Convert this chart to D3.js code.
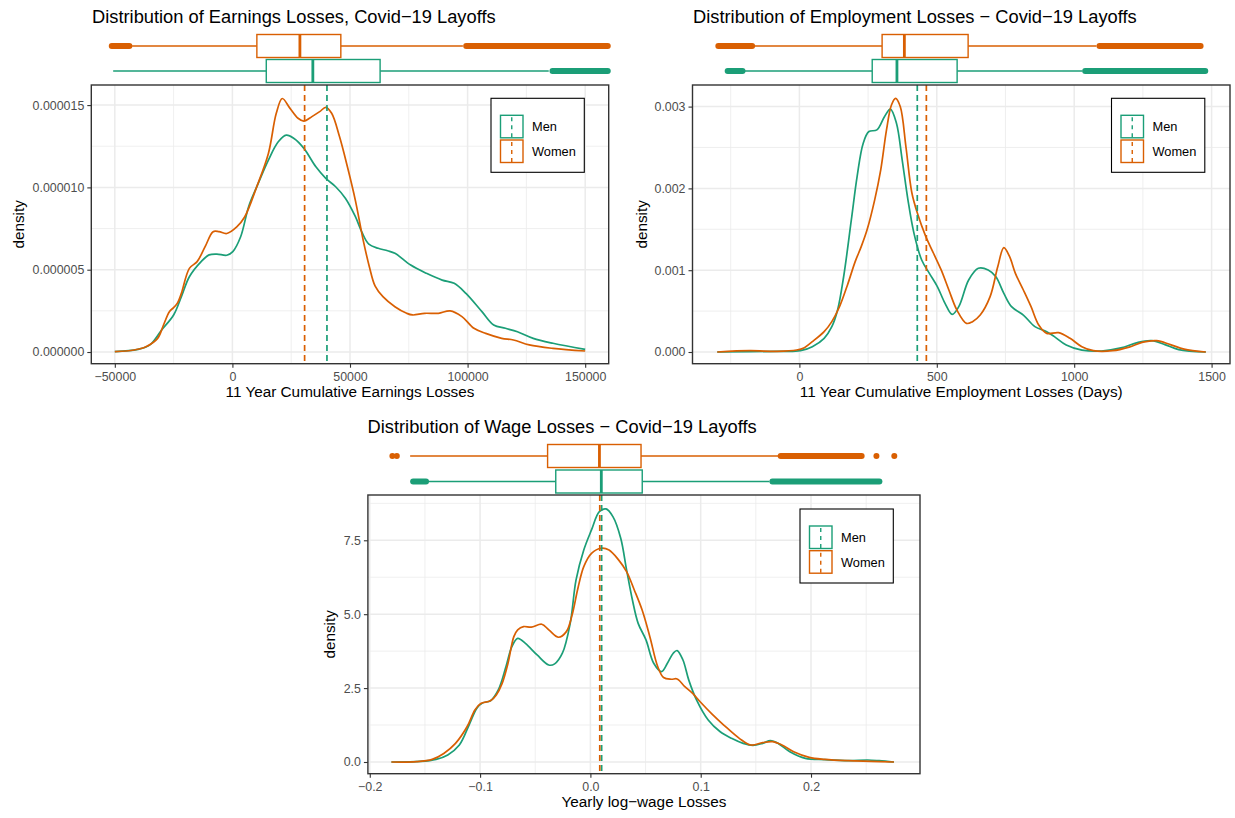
<!DOCTYPE html>
<html>
<head>
<meta charset="utf-8">
<script src="https://cdn.jsdelivr.net/npm/d3@7"></script>
<style>
body { margin: 0; background: #fff; }
text { font-family: "Liberation Sans", Arial, Helvetica, sans-serif; }
</style>
</head>
<body>
<div id="chart"></div>
<script>
// Dark2 colours
const menColor = "#1B9E77";
const womenColor = "#D95F02";
const groups = ["Men", "Women"];

// ---------- earnings panel (density in units of 1e-6) ----------
const earnMen = [[-50000,0.02],[-40200,0.16],[-35100,0.43],[-30100,1.34],[-25000,2.25],[-21700,3.36],
  [-18300,4.57],[-13300,5.49],[-9900,5.9],[-6600,5.95],[-2400,5.88],[170,6.1],[3500,7.0],[6900,8.83],
  [10250,10.0],[15300,11.66],[19500,12.77],[22900,13.17],[26200,12.97],[30400,12.37],[35500,11.25],
  [39700,10.55],[43900,10.04],[48100,9.33],[52300,8.22],[55000,7.3],[58000,6.55],[62000,6.3],
  [66000,6.15],[69100,6.0],[75800,5.28],[82500,4.78],[89200,4.37],[94300,4.17],[99300,3.56],
  [106100,2.45],[111100,1.64],[116100,1.44],[121200,1.23],[127900,0.83],[136300,0.53],[150000,0.16]];
const earnWomen = [[-50000,0.02],[-41800,0.12],[-36800,0.32],[-31800,0.83],[-29300,1.64],[-26800,2.45],
  [-25000,2.7],[-23400,2.96],[-21700,3.56],[-18300,5.08],[-15000,5.49],[-11600,6.4],[-8200,7.31],
  [-5700,7.31],[-2400,7.2],[1850,7.6],[5200,8.2],[10250,10.0],[15300,12.06],[18650,14.5],[21200,15.4],
  [24500,14.8],[27900,14.2],[30400,14.03],[33800,14.3],[37100,14.6],[39700,14.86],[42200,14.5],
  [45500,13.1],[48900,11.25],[52300,9.2],[55600,6.8],[58200,5.2],[60700,4.0],[64000,3.36],[69100,2.75],
  [74100,2.35],[76600,2.25],[81700,2.35],[87600,2.35],[92600,2.5],[97600,2.15],[102700,1.44],
  [107700,1.13],[114500,0.83],[119500,0.73],[126200,0.43],[136300,0.22],[150000,0.06]];
const earnMeans = [40200, 30700];
// whisker low, q1, median, q3, whisker high
const earnBoxMen = [-50700, 14400, 34200, 62800, 134500];
const earnBoxWomen = [-42650, 10400, 28700, 46100, 98000];
const earnOutMen = [[136100, 159600]];
const earnOutWomen = [[-51300, -43800], [99400, 159600]];
const earnXTicks = [-50000, 0, 50000, 100000, 150000];
const earnXLabels = ["\u221250000", "0", "50000", "100000", "150000"];
const earnXMinor = [-25000, 25000, 75000, 125000];
const earnYTicks = [0, 5, 10, 15];
const earnYLabels = ["0.000000", "0.000005", "0.000010", "0.000015"];
const earnYMinor = [2.5, 7.5, 12.5];

// ---------- employment panel (density in units of 1e-3) ----------
const empMen = [[-299,0],[-81,0.008],[4,0.016],[47,0.065],[90,0.167],[118,0.31],[139,0.514],[161,0.92],
  [189,1.614],[210,2.144],[232,2.55],[253,2.695],[282,2.715],[310,2.88],[331,2.97],[353,2.8],[374,2.35],
  [395,1.86],[417,1.45],[445,1.125],[473,0.962],[502,0.8],[530,0.595],[556,0.46],[580,0.554],[616,0.88],
  [651,1.023],[687,1.003],[715,0.92],[744,0.717],[772,0.554],[815,0.452],[857,0.31],[900,0.249],
  [928,0.188],[971,0.086],[1028,0.024],[1099,0.012],[1170,0.05],[1230,0.115],[1282,0.138],[1330,0.09],
  [1380,0.03],[1479,0]];
const empWomen = [[-299,0],[-180,0.016],[-81,0.008],[-10,0.024],[18,0.053],[47,0.126],[90,0.249],
  [118,0.371],[146,0.554],[175,0.82],[203,1.105],[225,1.288],[246,1.49],[274,1.86],[296,2.226],
  [317,2.715],[335,3.02],[350,3.1],[367,3.0],[388,2.5],[409,1.95],[431,1.68],[459,1.42],[488,1.207],
  [516,1.003],[544,0.758],[573,0.514],[608,0.35],[630,0.371],[658,0.452],[694,0.677],[722,1.044],
  [744,1.276],[765,1.166],[786,0.962],[815,0.758],[843,0.554],[871,0.33],[900,0.228],[943,0.236],
  [985,0.167],[1028,0.065],[1070,0.016],[1140,0.016],[1200,0.06],[1250,0.12],[1300,0.138],[1350,0.09],
  [1400,0.035],[1479,0]];
const empMeans = [429, 462];
const empBoxMen = [-205, 265, 355, 574, 1030];
const empBoxWomen = [-170, 301, 382, 614, 1081];
const empOutMen = [[-261, -207], [1040, 1477]];
const empOutWomen = [[-295, -172], [1092, 1460]];
const empXTicks = [0, 500, 1000, 1500];
const empXLabels = ["0", "500", "1000", "1500"];
const empXMinor = [-250, 250, 750, 1250];
const empYTicks = [0, 1, 2, 3];
const empYLabels = ["0.000", "0.001", "0.002", "0.003"];
const empYMinor = [0.5, 1.5, 2.5];

// ---------- wage panel ----------
const wageMen = [[-0.1804,0],[-0.154,0.02],[-0.1399,0.09],[-0.1293,0.24],[-0.1188,0.575],[-0.11,1.25],
  [-0.1029,1.82],[-0.0976,2.0],[-0.0906,2.07],[-0.0835,2.44],[-0.0765,3.23],[-0.0712,3.9],[-0.0659,4.18],
  [-0.0589,4.01],[-0.0483,3.62],[-0.0377,3.28],[-0.0324,3.32],[-0.0254,3.68],[-0.0183,4.69],[-0.013,6.16],
  [-0.006,7.17],[0.001,7.85],[0.0081,8.47],[0.0141,8.56],[0.0204,8.3],[0.0275,7.57],[0.0328,6.5],
  [0.0381,5.48],[0.0433,4.69],[0.0504,4.13],[0.0574,3.34],[0.0645,3.06],[0.0698,3.34],[0.0751,3.68],
  [0.0786,3.77],[0.0839,3.45],[0.0892,2.77],[0.0962,2.1],[0.1068,1.42],[0.1174,1.03],[0.1279,0.8],
  [0.1385,0.63],[0.1473,0.564],[0.1561,0.63],[0.1632,0.72],[0.1702,0.63],[0.1808,0.35],[0.1949,0.124],
  [0.2125,0.079],[0.2337,0.045],[0.2513,0.068],[0.2618,0.045],[0.2752,0]];
const wageWomen = [[-0.1804,0],[-0.1575,0.011],[-0.1434,0.09],[-0.1329,0.29],[-0.1223,0.63],
  [-0.1117,1.2],[-0.1047,1.76],[-0.0994,1.98],[-0.0906,2.07],[-0.0853,2.27],[-0.08,2.66],[-0.0747,3.34],
  [-0.0694,4.24],[-0.0659,4.47],[-0.0606,4.58],[-0.0536,4.56],[-0.0441,4.66],[-0.0377,4.47],
  [-0.0289,4.22],[-0.0218,4.41],[-0.0166,4.97],[-0.0113,5.88],[-0.006,6.61],[0.001,7.06],[0.0099,7.23],
  [0.0169,7.17],[0.0257,6.83],[0.0328,6.44],[0.0398,5.82],[0.0469,5.14],[0.0539,4.24],[0.061,3.23],
  [0.0663,2.86],[0.0733,2.8],[0.0786,2.81],[0.0856,2.55],[0.0927,2.32],[0.0997,2.03],[0.1103,1.62],
  [0.1209,1.25],[0.135,0.8],[0.1455,0.575],[0.1561,0.654],[0.1649,0.688],[0.1737,0.575],[0.1843,0.35],
  [0.1984,0.158],[0.2125,0.09],[0.2337,0.045],[0.2548,0.023],[0.2752,0]];
const wageMeans = [0.0102, 0.0085];
const wageBoxMen = [-0.147, -0.0314, 0.0099, 0.047, 0.1623];
const wageBoxWomen = [-0.1634, -0.0388, 0.0082, 0.0459, 0.1703];
const wageOutMen = [[-0.1607, -0.149], [0.165, 0.262]];
const wageOutWomen = [[0.1725, 0.2459]];
const wageDotsWomen = [-0.1795, -0.1755, 0.2593, 0.2755];
const wageXTicks = [-0.2, -0.1, 0, 0.1, 0.2];
const wageXLabels = ["\u22120.2", "\u22120.1", "0.0", "0.1", "0.2"];
const wageXMinor = [-0.15, -0.05, 0.05, 0.15, 0.25];
const wageYTicks = [0, 2.5, 5, 7.5];
const wageYLabels = ["0.0", "2.5", "5.0", "7.5"];
const wageYMinor = [1.25, 3.75, 6.25, 8.75];

const panels = [
  { title: "Distribution of Earnings Losses, Covid\u221219 Layoffs", xTitle: "11 Year Cumulative Earnings Losses",
    L: 91.3, R: 608.7, T: 85, B: 363.7, xDom: [-60000, 160000], yDom: [-0.71, 16.22],
    men: earnMen, women: earnWomen, means: earnMeans, boxMen: earnBoxMen, boxWomen: earnBoxWomen,
    outMen: earnOutMen, outWomen: earnOutWomen, dotsMen: [], dotsWomen: [],
    xTicks: earnXTicks, xLabels: earnXLabels, xMinor: earnXMinor,
    yTicks: earnYTicks, yLabels: earnYLabels, yMinor: earnYMinor,
    titleX: 92, titleY: 22.5, yTitleX: 19, boxY: [71, 46], legX: 491, legY: 98.3 },
  { title: "Distribution of Employment Losses \u2212 Covid\u221219 Layoffs", xTitle: "11 Year Cumulative Employment Losses (Days)",
    L: 692.5, R: 1230, T: 85, B: 363.7, xDom: [-389, 1567], yDom: [-0.143, 3.264],
    men: empMen, women: empWomen, means: empMeans, boxMen: empBoxMen, boxWomen: empBoxWomen,
    outMen: empOutMen, outWomen: empOutWomen, dotsMen: [], dotsWomen: [],
    xTicks: empXTicks, xLabels: empXLabels, xMinor: empXMinor,
    yTicks: empYTicks, yLabels: empYLabels, yMinor: empYMinor,
    titleX: 693, titleY: 22.5, yTitleX: 641.6, boxY: [71, 46], legX: 1111.5, legY: 98.3 },
  { title: "Distribution of Wage Losses \u2212 Covid\u221219 Layoffs", xTitle: "Yearly log\u2212wage Losses",
    L: 367.9, R: 920, T: 495, B: 773.7, xDom: [-0.2017, 0.2988], yDom: [-0.396, 9.032],
    men: wageMen, women: wageWomen, means: wageMeans, boxMen: wageBoxMen, boxWomen: wageBoxWomen,
    outMen: wageOutMen, outWomen: wageOutWomen, dotsMen: [], dotsWomen: wageDotsWomen,
    xTicks: wageXTicks, xLabels: wageXLabels, xMinor: wageXMinor,
    yTicks: wageYTicks, yLabels: wageYLabels, yMinor: wageYMinor,
    titleX: 367.5, titleY: 432.5, yTitleX: 329.7, boxY: [481.5, 456], legX: 800, legY: 509 }
];

const svg = d3.select("#chart").append("svg")
  .attr("width", 1235).attr("height", 818);

function drawBox(g, x, cy, stats, outs, dots, color) {
  const h = 11.5;
  // outlier bands (dense points)
  g.selectAll(null).data(outs).enter().append("line")
    .attr("x1", d => x(d[0])).attr("x2", d => x(d[1]))
    .attr("y1", cy).attr("y2", cy)
    .attr("stroke", color).attr("stroke-width", 6).attr("stroke-linecap", "round");
  g.selectAll(null).data(dots).enter().append("circle")
    .attr("cx", d => x(d)).attr("cy", cy).attr("r", 3).attr("fill", color);
  // whiskers
  g.append("line").attr("x1", x(stats[0])).attr("x2", x(stats[1])).attr("y1", cy).attr("y2", cy)
    .attr("stroke", color).attr("stroke-width", 1.4);
  g.append("line").attr("x1", x(stats[3])).attr("x2", x(stats[4])).attr("y1", cy).attr("y2", cy)
    .attr("stroke", color).attr("stroke-width", 1.4);
  g.append("rect").attr("x", x(stats[1])).attr("y", cy - h)
    .attr("width", x(stats[3]) - x(stats[1])).attr("height", 2 * h)
    .attr("fill", "#fff").attr("stroke", color).attr("stroke-width", 1.4);
  g.append("line").attr("x1", x(stats[2])).attr("x2", x(stats[2])).attr("y1", cy - h).attr("y2", cy + h)
    .attr("stroke", color).attr("stroke-width", 2.8);
}

panels.forEach(p => {
  const x = d3.scaleLinear().domain(p.xDom).range([p.L, p.R]);
  const y = d3.scaleLinear().domain(p.yDom).range([p.B, p.T]);
  const g = svg.append("g");

  // title
  g.append("text").attr("x", p.titleX).attr("y", p.titleY)
    .attr("font-size", 18.3).attr("fill", "#000").text(p.title);

  // boxplots above the panel
  drawBox(g, x, p.boxY[0], p.boxMen, p.outMen, p.dotsMen, menColor);
  drawBox(g, x, p.boxY[1], p.boxWomen, p.outWomen, p.dotsWomen, womenColor);

  // grid
  g.selectAll(null).data(p.xMinor).enter().append("line")
    .attr("x1", d => x(d)).attr("x2", d => x(d)).attr("y1", p.T).attr("y2", p.B)
    .attr("stroke", "#EBEBEB").attr("stroke-width", 0.8);
  g.selectAll(null).data(p.yMinor).enter().append("line")
    .attr("x1", p.L).attr("x2", p.R).attr("y1", d => y(d)).attr("y2", d => y(d))
    .attr("stroke", "#EBEBEB").attr("stroke-width", 0.8);
  g.selectAll(null).data(p.xTicks).enter().append("line")
    .attr("x1", d => x(d)).attr("x2", d => x(d)).attr("y1", p.T).attr("y2", p.B)
    .attr("stroke", "#EBEBEB").attr("stroke-width", 1.5);
  g.selectAll(null).data(p.yTicks).enter().append("line")
    .attr("x1", p.L).attr("x2", p.R).attr("y1", d => y(d)).attr("y2", d => y(d))
    .attr("stroke", "#EBEBEB").attr("stroke-width", 1.5);

  // density curves
  const line = d3.line().x(d => x(d[0])).y(d => y(d[1])).curve(d3.curveCatmullRom.alpha(0.5));
  g.append("path").datum(p.men).attr("d", line)
    .attr("fill", "none").attr("stroke", menColor).attr("stroke-width", 1.7);
  g.append("path").datum(p.women).attr("d", line)
    .attr("fill", "none").attr("stroke", womenColor).attr("stroke-width", 1.7);

  // mean lines
  g.selectAll(null).data(p.means).enter().append("line")
    .attr("x1", d => x(d)).attr("x2", d => x(d)).attr("y1", p.T).attr("y2", p.B)
    .attr("stroke", (d, i) => i === 0 ? menColor : womenColor)
    .attr("stroke-width", 1.7).attr("stroke-dasharray", "6,4");

  // border
  g.append("rect").attr("x", p.L).attr("y", p.T).attr("width", p.R - p.L).attr("height", p.B - p.T)
    .attr("fill", "none").attr("stroke", "#333333").attr("stroke-width", 1.4);

  // axes
  const xAxis = g.append("g").attr("transform", `translate(0,${p.B})`)
    .call(d3.axisBottom(x).tickValues(p.xTicks).tickFormat((d, i) => p.xLabels[i]).tickSize(4).tickPadding(4.5));
  const yAxis = g.append("g").attr("transform", `translate(${p.L},0)`)
    .call(d3.axisLeft(y).tickValues(p.yTicks).tickFormat((d, i) => p.yLabels[i]).tickSize(4).tickPadding(3));
  [xAxis, yAxis].forEach(a => {
    a.select(".domain").remove();
    a.selectAll(".tick line").attr("stroke", "#333333").attr("stroke-width", 1.1);
    a.selectAll(".tick text").attr("fill", "#4D4D4D").attr("font-size", 12.4)
      .attr("font-family", "Liberation Sans, Arial, sans-serif");
  });

  // axis titles
  g.append("text").attr("x", (p.L + p.R) / 2).attr("y", p.B + 33.5)
    .attr("text-anchor", "middle").attr("font-size", 15.3).attr("fill", "#000").text(p.xTitle);
  g.append("text").attr("transform", `translate(${p.yTitleX},${(p.T + p.B) / 2}) rotate(-90)`)
    .attr("dy", "0.35em").attr("text-anchor", "middle").attr("font-size", 15.3).attr("fill", "#000")
    .text("density");

  // legend
  const leg = g.append("g").attr("transform", `translate(${p.legX},${p.legY})`);
  leg.append("rect").attr("width", 93.3).attr("height", 74)
    .attr("fill", "#fff").attr("stroke", "#000").attr("stroke-width", 1.1);
  groups.forEach((name, i) => {
    const c = i === 0 ? menColor : womenColor;
    const ky = 17 + i * 24.7;
    leg.append("rect").attr("x", 9.5).attr("y", ky).attr("width", 22.5).attr("height", 22.5)
      .attr("fill", "none").attr("stroke", c).attr("stroke-width", 1.4);
    leg.append("line").attr("x1", 20.75).attr("x2", 20.75).attr("y1", ky).attr("y2", ky + 22.5)
      .attr("stroke", c).attr("stroke-width", 1.4).attr("stroke-dasharray", "4,4")
      .attr("stroke-dashoffset", -2);
    leg.append("text").attr("x", 41).attr("y", ky + 16)
      .attr("font-size", 12.8).attr("fill", "#000").text(name);
  });
});
</script>
</body>
</html>
